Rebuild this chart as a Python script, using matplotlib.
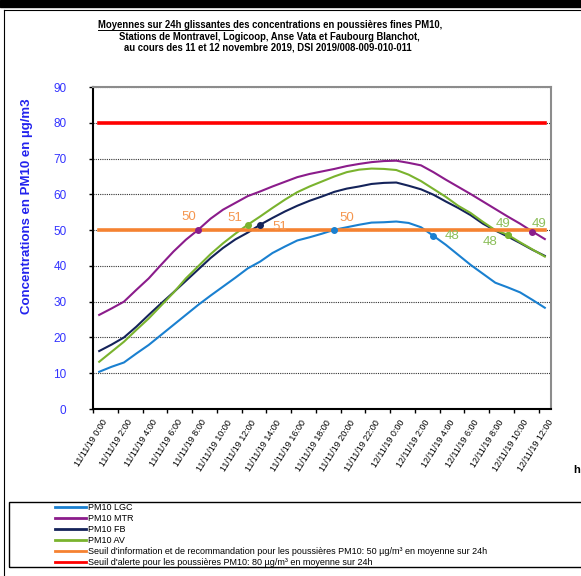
import matplotlib
matplotlib.use('Agg')
import matplotlib.pyplot as plt
import matplotlib.transforms as mtransforms
from matplotlib.lines import Line2D
from matplotlib.patches import Rectangle

plt.rcParams['font.family'] = ['Liberation Sans', 'DejaVu Sans']

# hourly 24h sliding means, 11/11/19 0:00 -> 12/11/19 12:00
lgc = [10.4, 11.8, 13.0, 15.5, 17.9, 20.7, 23.5, 26.3, 29.1, 31.7, 34.2, 36.7, 39.3,
       41.2, 43.6, 45.4, 47.1, 48.0, 49.0, 50.1, 50.8, 51.5, 52.1, 52.2, 52.4,
       52.0, 50.8, 48.4, 45.9, 43.1, 40.3, 37.8, 35.3, 34.0, 32.6, 30.5, 28.3]
mtr = [26.3, 28.1, 30.0, 33.3, 36.5, 40.3, 44.0, 47.3, 50.1, 53.2, 55.7, 57.6, 59.5,
       60.8, 62.2, 63.5, 64.8, 65.7, 66.4, 67.1, 67.9, 68.5, 69.0, 69.3, 69.4,
       68.8, 68.1, 66.2, 64.1, 62.1, 60.1, 58.0, 55.9, 53.8, 51.8, 49.6, 47.5]
fb = [16.2, 18.0, 20.0, 23.0, 26.3, 29.5, 32.6, 35.8, 39.0, 42.2, 45.0, 47.4, 49.3,
      51.5, 53.4, 55.2, 56.8, 58.2, 59.4, 60.7, 61.6, 62.2, 62.9, 63.2, 63.3,
      62.4, 61.4, 59.9, 58.0, 56.2, 54.2, 51.8, 49.9, 48.2, 46.4, 44.5, 42.8]
av = [13.2, 16.0, 18.8, 22.1, 25.3, 28.9, 32.5, 36.5, 39.9, 43.3, 46.3, 49.0, 51.5,
      53.8, 56.2, 58.5, 60.6, 62.2, 63.6, 65.0, 66.2, 66.9, 67.2, 67.1, 66.8,
      65.5, 63.7, 61.5, 59.3, 56.8, 54.8, 52.3, 50.0, 48.7, 46.6, 44.6, 42.6]
seuil_info = 50
seuil_alerte = 80

tick_labels = ['11/11/19 0:00', '11/11/19 2:00', '11/11/19 4:00', '11/11/19 6:00',
               '11/11/19 8:00', '11/11/19 10:00', '11/11/19 12:00', '11/11/19 14:00',
               '11/11/19 16:00', '11/11/19 18:00', '11/11/19 20:00', '11/11/19 22:00',
               '12/11/19 0:00', '12/11/19 2:00', '12/11/19 4:00', '12/11/19 6:00',
               '12/11/19 8:00', '12/11/19 10:00', '12/11/19 12:00']

# (series, hour index, text, text colour, dx px, dy px)
point_labels = [('mtr', 8, '50', '#f5964f', -9, 13),
                ('av', 12, '51', '#f5964f', -13, 7),
                ('fb', 13, '51', '#f5964f', 20, -2),
                ('lgc', 19, '50', '#f5964f', 12, 12),
                ('lgc', 27, '48', '#8cbf5a', 19, 0),
                ('av', 33, '48', '#8cbf5a', -18, -7),
                ('av', 33, '49', '#8cbf5a', -5, 11),
                ('mtr', 35, '49', '#8cbf5a', 7, 8)]

series = {'lgc': lgc, 'mtr': mtr, 'fb': fb, 'av': av}
colors = {'lgc': '#1a80d0', 'mtr': '#8b1c8b', 'fb': '#14235a', 'av': '#7ab32e'}
names = {'lgc': 'PM10 LGC', 'mtr': 'PM10 MTR', 'fb': 'PM10 FB', 'av': 'PM10 AV'}

W, H = 581, 576
fig = plt.figure(figsize=(W / 100, H / 100), dpi=100)


def fx(px):
    return px / W


def fy(py):
    return 1 - py / H


ax = fig.add_axes([fx(93), fy(409), fx(551) - fx(93), fy(87) - fy(409)])

x = [i + 0.5 for i in range(len(lgc))]
for key in ['lgc', 'mtr', 'fb', 'av']:
    ax.plot(x, series[key], color=colors[key], lw=1.5, zorder=3)
ax.plot(x, [seuil_info] * len(x), color='#f58231', lw=2.6, zorder=4)
ax.plot(x, [seuil_alerte] * len(x), color='#ff0000', lw=2.6, zorder=4)

# point markers + value labels
for key, i, txt, tcol, dx, dy in point_labels:
    ax.plot(x[i], series[key][i], 'o', ms=4, color=colors[key], zorder=5)
    ax.annotate(txt, (x[i], series[key][i]), xytext=(dx * 0.72, dy * 0.72),
                textcoords='offset points', ha='center', va='center',
                color=tcol, fontsize=9.5, zorder=6)

ax.set_xlim(0, len(lgc))
ax.set_ylim(0, 90)
ax.set_yticks(range(0, 100, 10))
ax.set_xticks(range(0, len(lgc), 2))
ax.set_xticklabels([])
ax.yaxis.grid(True, color='#333333', lw=0.8, linestyle=(0, (1, 1)))
ax.set_axisbelow(True)
ax.tick_params(axis='y', length=3, width=1, pad=16, labelcolor='#3333ff', labelsize=8.5)
ax.tick_params(axis='x', length=3, width=1)
for s in ['left', 'bottom']:
    ax.spines[s].set_color('black')
    ax.spines[s].set_linewidth(1.5)
for s in ['top', 'right']:
    ax.spines[s].set_color('#8c8c8c')
    ax.spines[s].set_linewidth(1.5)

off = mtransforms.ScaledTranslation(9 / 100, -9 / 100, fig.dpi_scale_trans)
for t, lab in zip(range(0, len(lgc), 2), tick_labels):
    ax.text(t, 0, lab, transform=ax.get_xaxis_transform() + off, rotation=58,
            ha='right', va='top', rotation_mode='anchor', fontsize=6.5)

fig.text(fx(27), fy(206), 'Concentrations en PM10 en µg/m3', rotation=90,
         ha='center', va='center', fontsize=9.5, fontweight='bold', color='#2222ee')
fig.text(fx(573), fy(470), 'h', ha='left', va='center', fontsize=8, fontweight='bold')

# title, first part underlined
tfs = 6.85
t1 = fig.text(fx(270), fy(25), 'Moyennes sur 24h glissantes des concentrations en poussières fines PM10,',
              ha='center', va='center', fontsize=tfs, fontweight='bold')
fig.text(fx(269), fy(36.5), 'Stations de Montravel, Logicoop, Anse Vata et Faubourg Blanchot,',
         ha='center', va='center', fontsize=tfs, fontweight='bold')
fig.text(fx(268), fy(47.7), 'au cours des 11 et 12 novembre 2019, DSI 2019/008-009-010-011',
         ha='center', va='center', fontsize=tfs, fontweight='bold')
fig.canvas.draw()
r = fig.canvas.get_renderer()
bb = t1.get_window_extent(r)
pre = fig.text(bb.x0 / W, fy(25), 'Moyennes sur 24h glissantes ', ha='left', va='center',
               fontsize=tfs, fontweight='bold', alpha=0)
bb2 = pre.get_window_extent(r)
fig.add_artist(Line2D([bb.x0 / W, bb2.x1 / W], [bb.y0 / H - 0.0005] * 2, color='black', lw=0.7))

# frame of the chart object
fig.add_artist(Rectangle((0, fy(7)), 1, 7 / H, color='black', transform=fig.transFigure))
fig.add_artist(Line2D([fx(4), 1], [fy(9.5), fy(9.5)], color='black', lw=0.8))
fig.add_artist(Line2D([fx(4), fx(4)], [fy(9.5), 0], color='black', lw=0.8))

# legend
fig.add_artist(Rectangle((fx(8.5), fy(567)), 1, (567 - 502) / H, fill=False,
                         edgecolor='black', lw=1, transform=fig.transFigure))
handles = [Line2D([], [], color=colors[k], lw=2) for k in ['lgc', 'mtr', 'fb', 'av']]
handles += [Line2D([], [], color='#f58231', lw=2), Line2D([], [], color='#ff0000', lw=2)]
labels = [names[k] for k in ['lgc', 'mtr', 'fb', 'av']]
labels += ["Seuil d'information et de recommandation pour les poussières PM10: 50 µg/m³ en moyenne sur 24h",
           "Seuil d'alerte pour les poussières PM10: 80 µg/m³ en moyenne sur 24h"]
fig.legend(handles, labels, loc='upper left', bbox_to_anchor=(fx(55), fy(503)), frameon=False,
           fontsize=6.5, handlelength=3.4, handletextpad=0.25, labelspacing=0.23,
           borderpad=0, borderaxespad=0)

fig.savefig('out.png', dpi=100)
